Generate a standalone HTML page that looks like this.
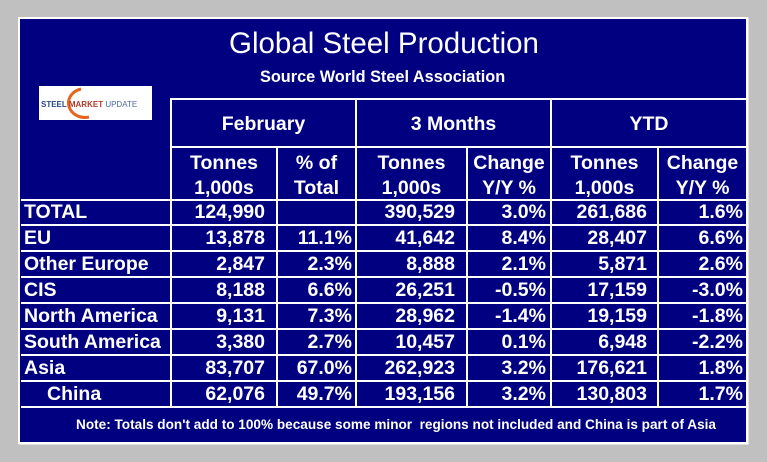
<!DOCTYPE html>
<html><head><meta charset="utf-8"><style>
body{margin:0;width:767px;height:462px;background:#c0c0c0;position:relative;overflow:hidden;font-family:"Liberation Sans",Arial,sans-serif;color:#fff}
.frame{position:absolute;left:18px;top:17px;width:726px;height:423px;border:2px solid #fff;background:#000080;box-shadow:1px 1px 0 #e0e0e0}
.h{position:absolute;height:2px;background:#fff}
.v{position:absolute;width:2px;background:#fff}
.t{position:absolute;font-weight:bold;font-size:19.5px;line-height:20px;white-space:nowrap}
.r{text-align:right}
.c{text-align:center}
</style></head><body>
<div class="frame"></div>
<div class="t" style="left:229px;top:27px;font-size:29.5px;line-height:34px;font-weight:normal">Global Steel Production</div>
<div class="t" style="left:260px;top:67px;font-size:16.3px">Source World Steel Association</div>
<div style="position:absolute;left:39px;top:86px;width:113px;height:34px;background:#fff">
<svg width="113" height="34" viewBox="0 0 113 34"><path d="M42 3 A16 14 0 1 0 50 31" stroke="#e8631c" stroke-width="3" fill="none"/><text x="2" y="21" font-family="Liberation Sans" font-size="8" font-weight="bold" fill="#2a4a8a">STEEL <tspan fill="#b03a2a">MARKET</tspan> <tspan font-weight="normal" fill="#4a6aa8">UPDATE</tspan></text></svg></div>
<div class="h" style="left:171px;top:98px;width:576px"></div>
<div class="h" style="left:171px;top:146px;width:576px"></div>
<div class="h" style="left:21px;top:199px;width:726px"></div>
<div class="h" style="left:21px;top:224px;width:726px"></div>
<div class="h" style="left:21px;top:250px;width:726px"></div>
<div class="h" style="left:21px;top:276px;width:726px"></div>
<div class="h" style="left:21px;top:302px;width:726px"></div>
<div class="h" style="left:21px;top:328px;width:726px"></div>
<div class="h" style="left:21px;top:354px;width:726px"></div>
<div class="h" style="left:21px;top:380px;width:726px"></div>
<div class="h" style="left:21px;top:406px;width:726px"></div>
<div class="v" style="left:170px;top:98px;height:310px"></div>
<div class="v" style="left:276px;top:146px;height:262px"></div>
<div class="v" style="left:355px;top:98px;height:310px"></div>
<div class="v" style="left:466px;top:146px;height:262px"></div>
<div class="v" style="left:550px;top:98px;height:310px"></div>
<div class="v" style="left:657px;top:146px;height:262px"></div>
<div class="t c" style="left:171px;width:185px;top:114px">February</div>
<div class="t c" style="left:356px;width:195px;top:114px">3 Months</div>
<div class="t c" style="left:551px;width:196px;top:114px">YTD</div>
<div class="t c" style="left:171px;width:106px;top:151px;line-height:25px">Tonnes<br>1,000s</div>
<div class="t c" style="left:277px;width:79px;top:151px;line-height:25px">% of<br>Total</div>
<div class="t c" style="left:356px;width:111px;top:151px;line-height:25px">Tonnes<br>1,000s</div>
<div class="t c" style="left:467px;width:84px;top:151px;line-height:25px">Change<br>Y/Y %</div>
<div class="t c" style="left:551px;width:107px;top:151px;line-height:25px">Tonnes<br>1,000s</div>
<div class="t c" style="left:658px;width:89px;top:151px;line-height:25px">Change<br>Y/Y %</div>
<div id="rows"></div>
<div class="t" style="left:76px;top:417px;font-size:13.6px;line-height:15px">Note: Totals don't add to 100% because some minor&nbsp; regions not included and China is part of Asia</div>
<script>
var d=[["TOTAL","124,990","","390,529","3.0%","261,686","1.6%"],
["EU","13,878","11.1%","41,642","8.4%","28,407","6.6%"],
["Other Europe","2,847","2.3%","8,888","2.1%","5,871","2.6%"],
["CIS","8,188","6.6%","26,251","-0.5%","17,159","-3.0%"],
["North America","9,131","7.3%","28,962","-1.4%","19,159","-1.8%"],
["South America","3,380","2.7%","10,457","0.1%","6,948","-2.2%"],
["Asia","83,707","67.0%","262,923","3.2%","176,621","1.8%"],
["China","62,076","49.7%","193,156","3.2%","130,803","1.7%"]];
var R=[265,352,455,546,647,743],h="";
d.forEach(function(r,i){var y=202+i*26;
h+='<div class="t" style="left:'+(i==7?47:24)+'px;top:'+y+'px">'+r[0]+'</div>';
for(var j=1;j<7;j++)h+='<div class="t r" style="left:'+(R[j-1]-150)+'px;width:150px;top:'+y+'px">'+r[j]+'</div>';});
document.getElementById("rows").innerHTML=h;
</script>
</body></html>
